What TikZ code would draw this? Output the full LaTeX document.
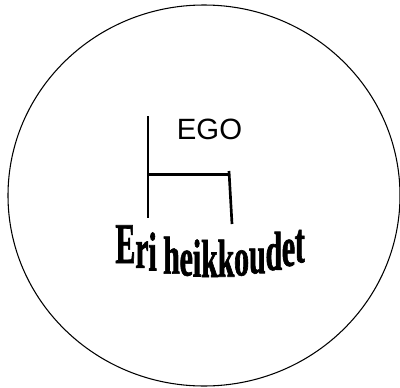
\documentclass[tikz,border=0pt]{standalone}
\usepackage{fontspec}
\usepackage{tikz}
\newfontfamily\egofont{Liberation Sans}
\newfontfamily\arcfont{Liberation Serif}[FakeStretch=0.56, BoldFeatures={FakeBold=1.2}]

\begin{document}
\begin{tikzpicture}[
    x=0.75pt, y=0.75pt,
    outline/.style={draw=black, line width=0.8pt},
    bracket/.style={draw=black, line width=2pt},
    label/.style={font=\egofont\fontsize{22}{24}\selectfont, inner sep=0pt},
    archletter/.style={font=\arcfont\bfseries\fontsize{40}{40}\selectfont, inner sep=0pt, anchor=base}
]
\useasboundingbox (0,0) rectangle (400,387);

% Circle
\draw [outline] (204,191.5) ellipse [x radius=196, y radius=190.5];

% Nodes
\node (ego) [label] at (209.5,258) {EGO};
\coordinate (lefttop) at (148,271);
\coordinate (leftbot) at (148,169);
\coordinate (leftmid) at (148,212.5);
\coordinate (righttop) at (229,216);
\coordinate (rightmid) at (229,212.5);
\coordinate (rightbot) at (232,163);

% Paths
\draw [bracket] (lefttop) -- (leftbot);
\draw [bracket] (leftmid) -- (rightmid);
\draw [bracket] (righttop) -- (rightbot);

% Arched text, letter by letter
\foreach \ch/\cx/\by/\ys [count=\i] in {E/125.4/263/1.08, r/141.9/267.9/1.05, i/152.6/270.5/1.03,
    h/171.5/273.6/1.0, e/186.3/275.6/1.0, i/197/276.5/1.0, k/209.5/277/1.0, k/226/276.7/1.0,
    o/241.6/275.4/1.0, u/257.4/273.2/1.0, d/273.9/269.9/1.03, e/288.5/265.9/1.05, t/299.8/262.3/1.08}
    \node (letter\i) [archletter, yscale=\ys] at (\cx,387-\by) {\ch};

\end{tikzpicture}
\end{document}
